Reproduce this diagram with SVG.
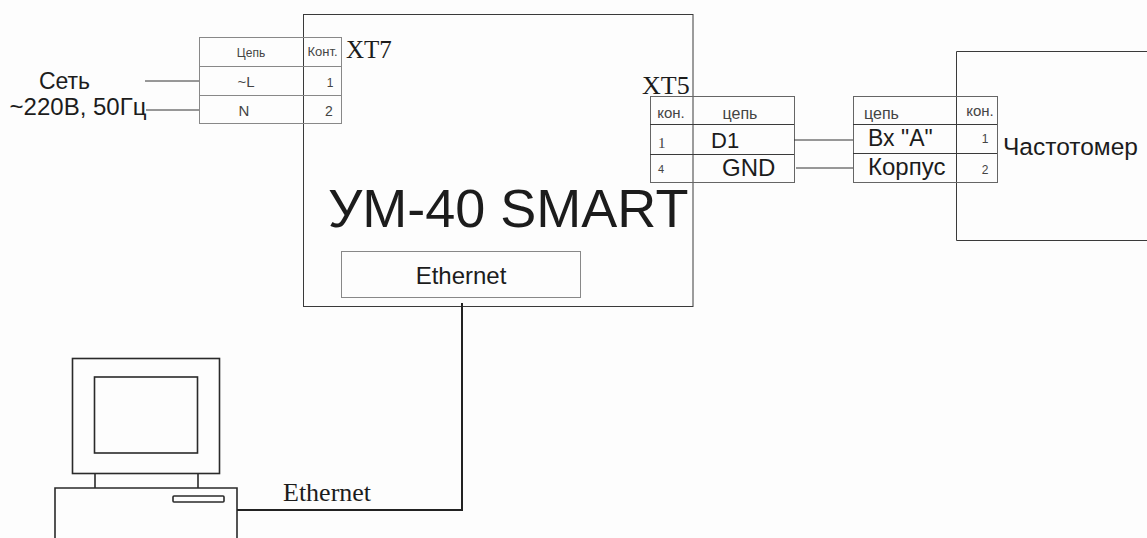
<svg xmlns="http://www.w3.org/2000/svg" width="1147" height="538" viewBox="0 0 1147 538">
<style>
.a{font-family:"Liberation Sans",Arial,sans-serif;fill:#1c1c1c}
.s{font-family:"Liberation Serif","Times New Roman",serif;fill:#1c1c1c}
.m{fill:#444}
.n{fill:none;stroke:#3a3a3a;stroke-width:1}
.t{fill:none;stroke:#888;stroke-width:1}
.u{fill:none;stroke:#666;stroke-width:1}
.h{fill:none;stroke:#2a2a2a;stroke-width:1.6}
.c{fill:none;stroke:#333;stroke-width:1}
</style>
<rect width="1147" height="538" fill="#fdfdfd"/>
<g id="um40">
<rect class="n" x="303.500" y="14.500" width="389.500" height="292"/>
<text class="a" x="328" y="227" font-size="54">УМ-40 SMART</text>
</g>
<g id="ethernet-port">
<rect class="t" x="341.500" y="251.500" width="239" height="46"/>
<text class="a" x="461" y="284" font-size="24" text-anchor="middle">Ethernet</text>
</g>
<g id="freq">
<path class="n" d="M1147 51.500H956.500V240.500H1147"/>
<text class="a" x="1003" y="155" font-size="24.500">Частотомер</text>
</g>
<g id="xt7">
<rect class="t" x="199.500" y="37.500" width="142" height="86"/>
<path class="t" d="M199 66.500H341M199 95.500H341"/>
<text class="a m" x="251" y="57" font-size="12" text-anchor="middle">Цепь</text>
<text class="a m" x="322.500" y="56" font-size="13" text-anchor="middle">Конт.</text>
<text class="a m" x="246" y="87" font-size="15" text-anchor="middle">~L</text>
<text class="a m" x="244" y="116" font-size="15" text-anchor="middle">N</text>
<text class="a m" x="330" y="87" font-size="12" text-anchor="middle">1</text>
<text class="a m" x="329" y="116" font-size="14" text-anchor="middle">2</text>
<text class="s" x="346" y="58" font-size="25">XT7</text>
</g>
<g id="xt5">
<rect class="u" x="650.500" y="96.500" width="144" height="86"/>
<path class="n" d="M650 124.500H794M650 154.500H794"/>
<text class="a m" x="671" y="118" font-size="15" text-anchor="middle">кон.</text>
<text class="a m" x="740" y="119" font-size="16" text-anchor="middle">цепь</text>
<text class="s m" x="658" y="148" font-size="15">1</text>
<text class="a m" x="658" y="173" font-size="11">4</text>
<text class="a" x="711" y="148" font-size="22">D1</text>
<text class="a" x="722" y="176" font-size="24">GND</text>
<text class="s" x="642" y="94" font-size="26">XT5</text>
</g>
<g id="freq-conn">
<rect class="u" x="853.500" y="96.500" width="144" height="86"/>
<path class="n" d="M853 124.500H997M853 153.500H997"/>
<text class="a m" x="864" y="119" font-size="16">цепь</text>
<text class="a m" x="980" y="116" font-size="15" text-anchor="middle">кон.</text>
<text class="a m" x="985" y="143" font-size="12" text-anchor="middle">1</text>
<text class="a m" x="985" y="174" font-size="12" text-anchor="middle">2</text>
<text class="a" x="868" y="146" font-size="23">Вх "А"</text>
<text class="a" x="868" y="175" font-size="24">Корпус</text>
</g>
<g id="net">
<text class="a" x="64.500" y="89" font-size="23" text-anchor="middle">Сеть</text>
<text class="a" x="78" y="115" font-size="24" text-anchor="middle">~220В, 50Гц</text>
</g>
<g id="pc">
<rect class="h" x="72.500" y="358.500" width="147" height="115"/>
<rect class="h" x="94.500" y="377" width="103" height="76"/>
<path class="h" d="M95 474V488M198 474V488"/>
<path class="h" d="M55 538V488H237V538"/>
<rect class="h" x="173" y="496" width="51" height="6" rx="1"/>
</g>
<g id="connectors">
<path class="c" d="M145 81H199M146 110H199M794 140H853M796 168H853"/>
<path d="M237 510H462V303" fill="none" stroke="#222" stroke-width="2"/>
<text class="s" x="283" y="501" font-size="26">Ethernet</text>
</g>
</svg>
